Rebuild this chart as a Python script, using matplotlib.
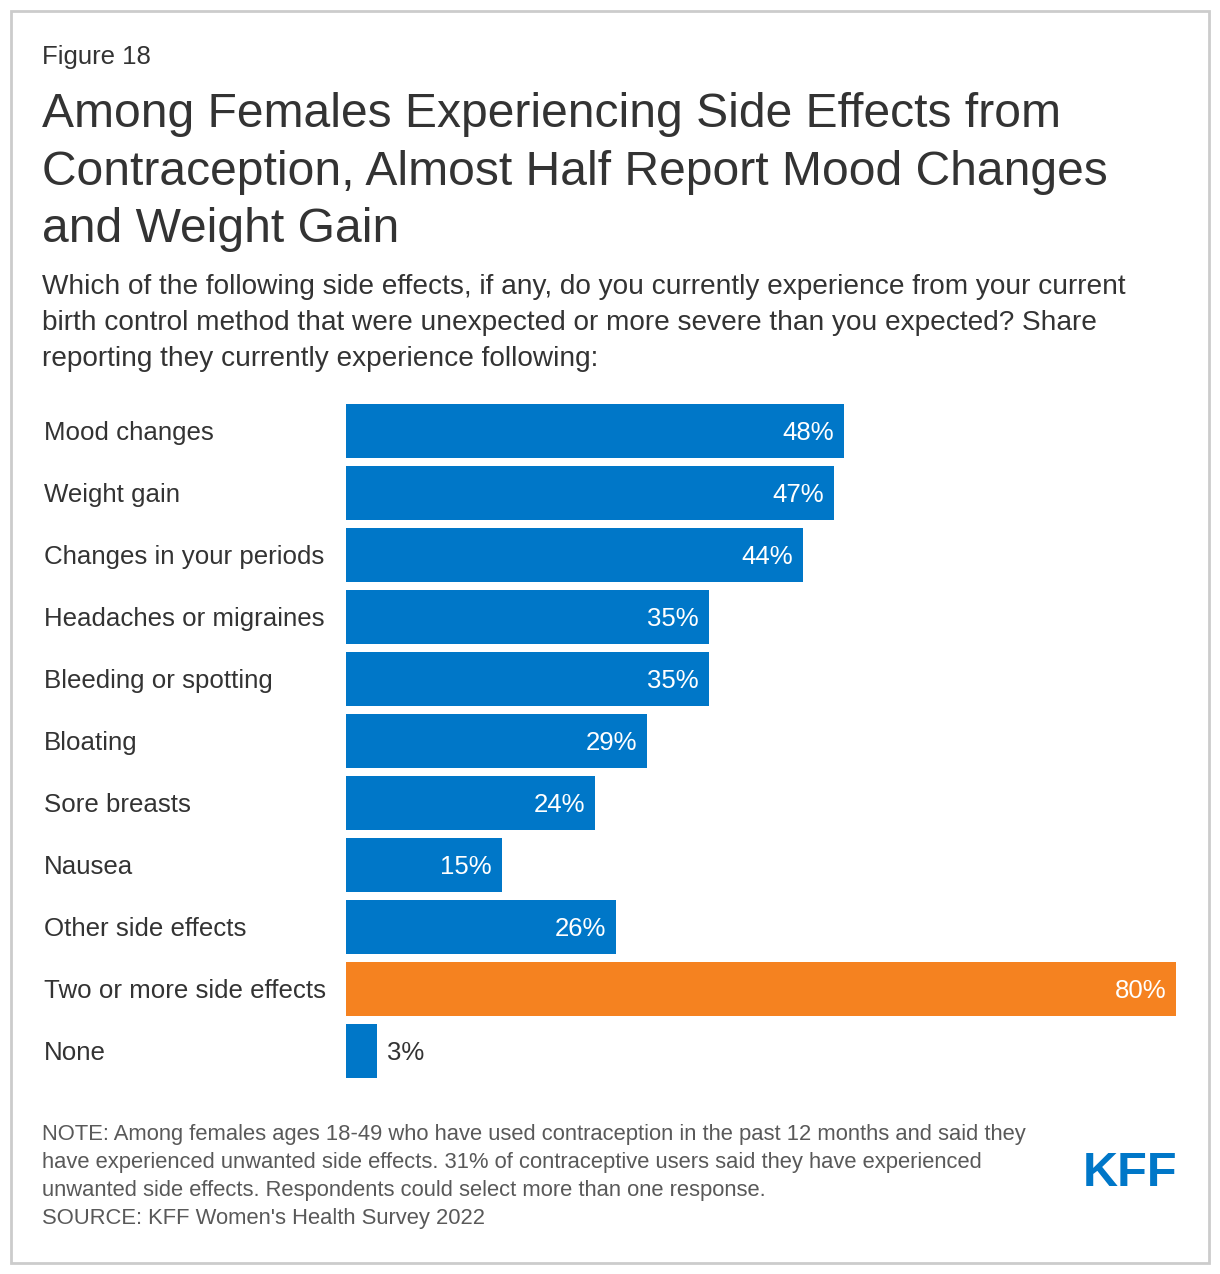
import matplotlib
matplotlib.use("Agg")
import matplotlib.pyplot as plt
from matplotlib.patches import Rectangle
from matplotlib.transforms import blended_transform_factory

categories = ["Mood changes", "Weight gain", "Changes in your periods",
              "Headaches or migraines", "Bleeding or spotting", "Bloating",
              "Sore breasts", "Nausea", "Other side effects",
              "Two or more side effects", "None"]
values = [48, 47, 44, 35, 35, 29, 24, 15, 26, 80, 3]
highlight = "Two or more side effects"

BLUE = "#0077c8"
ORANGE = "#f58220"
TEXT = "#333333"
NOTE = "#595959"

plt.rcParams['font.family'] = ['Liberation Sans', 'DejaVu Sans']

W, H = 1220, 1274
fig = plt.figure(figsize=(W / 100, H / 100), dpi=100)

def fx(px):
    return px / W

def fy(py):
    return 1 - py / H

# light gray frame
fig.patches.append(Rectangle((fx(11), fy(1263)), fx(1209) - fx(11), fy(11) - fy(1263),
                             transform=fig.transFigure, fill=False,
                             edgecolor="#cccccc", linewidth=2))

fig.text(fx(42), fy(57), "Figure 18", fontsize=18.5, color=TEXT, va="center")
title = ("Among Females Experiencing Side Effects from\n"
         "Contraception, Almost Half Report Mood Changes\n"
         "and Weight Gain")
fig.text(fx(42), fy(92), title, fontsize=34.6, color=TEXT, va="top", linespacing=1.36)
subtitle = ("Which of the following side effects, if any, do you currently experience from your current\n"
            "birth control method that were unexpected or more severe than you expected? Share\n"
            "reporting they currently experience following:")
fig.text(fx(42), fy(274), subtitle, fontsize=20.15, color=TEXT, va="top", linespacing=1.49)

# bars
n = len(categories)
ax = fig.add_axes([fx(346), fy(1082), fx(1176) - fx(346), (1082 - 400) / H])
colors = [ORANGE if c == highlight else BLUE for c in categories]
ax.barh(range(n), values, height=54 / 62, color=colors)
ax.set_xlim(0, 80)
ax.set_ylim(n - 0.5, -0.5)
ax.axis("off")

lab_tr = blended_transform_factory(fig.transFigure, ax.transData)
for i, (c, v) in enumerate(zip(categories, values)):
    ax.annotate(c, (fx(44), i), xycoords=lab_tr, xytext=(0, -2), textcoords="offset pixels",
                fontsize=18.6, color=TEXT, va="center", ha="left")
    if v >= 10:
        ax.annotate(f"{v}%", (v, i), xytext=(-10, -2), textcoords="offset pixels",
                    ha="right", va="center", fontsize=18.5, color="white")
    else:
        ax.annotate(f"{v}%", (v, i), xytext=(10, -2), textcoords="offset pixels",
                    ha="left", va="center", fontsize=18.5, color=TEXT)

note = ("NOTE: Among females ages 18-49 who have used contraception in the past 12 months and said they\n"
        "have experienced unwanted side effects. 31% of contraceptive users said they have experienced\n"
        "unwanted side effects. Respondents could select more than one response.\n"
        "SOURCE: KFF Women's Health Survey 2022")
fig.text(fx(42), fy(1124), note, fontsize=15.8, color=NOTE, va="top", linespacing=1.43)

fig.text(fx(1177), fy(1174), "KFF", fontsize=35, fontweight="bold", color=BLUE,
         ha="right", va="center")

fig.savefig("out.png", dpi=100)
